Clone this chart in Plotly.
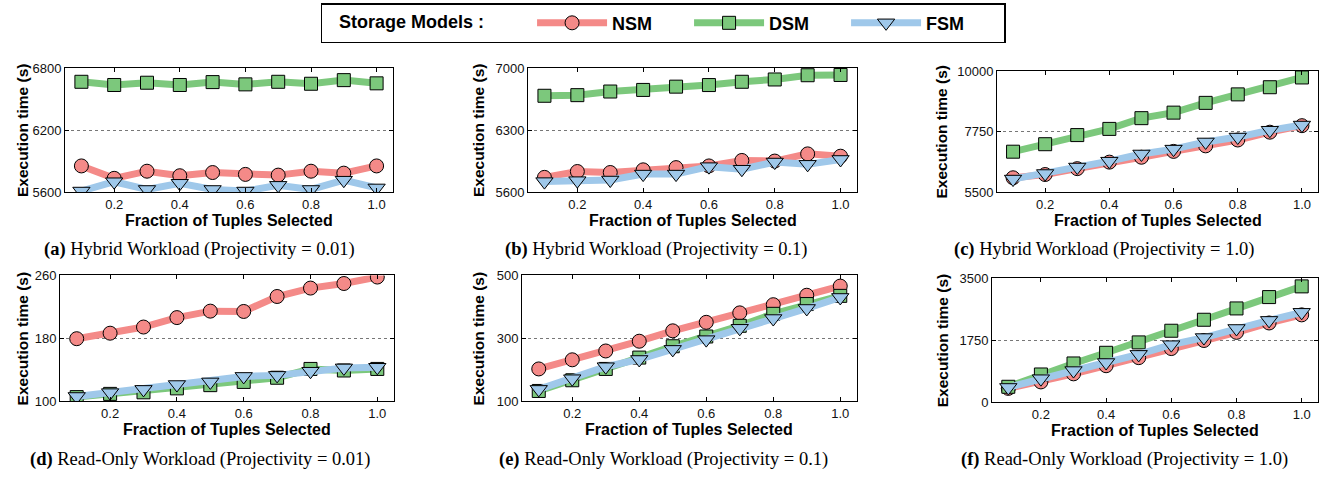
import plotly.graph_objects as go

# ---------------- data ----------------
fraction = [0.1, 0.2, 0.3, 0.4, 0.5, 0.6, 0.7, 0.8, 0.9, 1.0]
x_tickvals = [0.2, 0.4, 0.6, 0.8, 1.0]
x_ticktext = ["0.2", "0.4", "0.6", "0.8", "1.0"]
series_names = ["NSM", "DSM", "FSM"]

# (a) Hybrid, projectivity 0.01
nsm_a = [5853, 5733, 5802, 5758, 5789, 5771, 5764, 5802, 5783, 5853]
dsm_a = [6667, 6636, 6658, 6636, 6664, 6642, 6667, 6648, 6683, 6652]
fsm_a = [5610, 5700, 5625, 5685, 5625, 5610, 5665, 5625, 5715, 5640]
# (b) Hybrid, projectivity 0.1
nsm_b = [5766, 5832, 5821, 5851, 5876, 5895, 5957, 5950, 6031, 6005]
dsm_b = [6687, 6694, 6735, 6753, 6790, 6808, 6845, 6871, 6919, 6922]
fsm_b = [5718, 5729, 5736, 5803, 5803, 5887, 5858, 5939, 5913, 5968]
# (c) Hybrid, projectivity 1.0
nsm_c = [6031, 6152, 6370, 6612, 6794, 7011, 7217, 7435, 7725, 7967]
dsm_c = [7000, 7278, 7617, 7847, 8246, 8451, 8814, 9129, 9395, 9758]
fsm_c = [5983, 6189, 6430, 6648, 6915, 7096, 7362, 7544, 7798, 7990]
# (d) Read-only, projectivity 0.01
nsm_d = [179.6, 186.6, 194.4, 206.4, 214.6, 214.2, 233.2, 243.9, 249.7, 257.9]
dsm_d = [105.4, 109.5, 111.5, 116.5, 120.6, 124.7, 130.0, 141.2, 139.2, 141.2]
fsm_d = [106.2, 111.1, 115.2, 121.4, 124.7, 131.7, 133.0, 138.3, 142.5, 143.3]
# (e) Read-only, projectivity 0.1
nsm_e = [203, 232, 260, 291, 324, 351, 381, 407, 437, 466]
dsm_e = [133, 167, 203, 239, 275, 306, 340, 378, 409, 435]
fsm_e = [138, 172, 210, 233, 265, 296, 332, 363, 395, 430]
# (f) Read-only, projectivity 1.0
nsm_f = [393, 576, 804, 1033, 1261, 1517, 1745, 1974, 2239, 2468]
dsm_f = [439, 786, 1097, 1398, 1691, 2020, 2330, 2650, 2970, 3272]
fsm_f = [420, 667, 896, 1124, 1353, 1627, 1828, 2084, 2312, 2540]

y_ticks_a = [5600, 6200, 6800]
y_ticks_b = [5600, 6300, 7000]
y_ticks_c = [5500, 7750, 10000]
y_ticks_d = [100, 180, 260]
y_ticks_e = [100, 300, 500]
y_ticks_f = [0, 1750, 3500]

captions = [
    ("(a)", "Hybrid Workload (Projectivity = 0.01)"),
    ("(b)", "Hybrid Workload (Projectivity = 0.1)"),
    ("(c)", "Hybrid Workload (Projectivity = 1.0)"),
    ("(d)", "Read-Only Workload (Projectivity = 0.01)"),
    ("(e)", "Read-Only Workload (Projectivity = 0.1)"),
    ("(f)", "Read-Only Workload (Projectivity = 1.0)"),
]

panel_series = [
    (nsm_a, dsm_a, fsm_a, y_ticks_a),
    (nsm_b, dsm_b, fsm_b, y_ticks_b),
    (nsm_c, dsm_c, fsm_c, y_ticks_c),
    (nsm_d, dsm_d, fsm_d, y_ticks_d),
    (nsm_e, dsm_e, fsm_e, y_ticks_e),
    (nsm_f, dsm_f, fsm_f, y_ticks_f),
]

# ---------------- styling / layout ----------------
W, H = 1330, 483
# plot-area boxes in pixels: (left, right, top, bottom)
boxes = [
    (65, 393, 63, 191),
    (528, 857, 63, 191),
    (997, 1318, 66, 191),
    (60, 394, 277, 407),
    (522, 857, 277, 407),
    (992, 1318, 280, 408),
]
ytitle_x = [22, 478, 942, 22, 478, 942]
caption_pos = [(199, 250), (656, 250), (1104, 250), (200, 467), (663, 467), (1124, 467)]

line_colors = ["#F48A88", "#7CC87C", "#9FC8EA"]
marker_colors = ["#F48A88", "#7CC87C", "#9FC8EA"]
symbols = ["circle", "square", "triangle-down"]
marker_sizes = [14, 13, 15]

SANS = "Liberation Sans, Arial, sans-serif"
SERIF = "Liberation Serif, Times New Roman, serif"

fig = go.Figure()
annotations = []
layout = {}

for i, ((nsm, dsm, fsm, yt), (l, r, t, b)) in enumerate(zip(panel_series, boxes)):
    idx = "" if i == 0 else str(i + 1)
    xa, ya = "x" + idx, "y" + idx
    for k, vals in enumerate([nsm, dsm, fsm]):
        fig.add_trace(go.Scatter(
            x=fraction, y=vals, xaxis=xa, yaxis=ya,
            mode="lines+markers", name=series_names[k],
            legendgroup=series_names[k], showlegend=(i == 0),
            line=dict(color=line_colors[k], width=7),
            marker=dict(symbol=symbols[k], size=marker_sizes[k], color=marker_colors[k],
                        line=dict(color="black", width=1)),
            cliponaxis=True,
        ))
    layout["xaxis" + idx] = dict(
        domain=[l / W, r / W], anchor=ya, range=[0.05, 1.05],
        tickvals=x_tickvals, ticktext=x_ticktext,
        showline=True, mirror="ticks", linecolor="black", linewidth=1,
        ticks="inside", ticklen=4, tickcolor="black",
        showgrid=False, zeroline=False,
        tickfont=dict(family=SANS, size=13, color="#111"),
    )
    layout["yaxis" + idx] = dict(
        domain=[1 - b / H, 1 - t / H], anchor=xa, range=[yt[0], yt[-1]],
        tickvals=yt, ticktext=[str(v) for v in yt],
        showline=True, mirror="ticks", linecolor="black", linewidth=1,
        ticks="inside", ticklen=4, tickcolor="black",
        showgrid=True, gridcolor="#777", griddash="dot", gridwidth=1,
        zeroline=False,
        tickfont=dict(family=SANS, size=13, color="#111"),
    )
    # x-axis title
    annotations.append(dict(
        text="<b>Fraction of Tuples Selected</b>", xref="paper", yref="paper",
        x=(l + r) / 2 / W, y=1 - (b + 29) / H, xanchor="center", yanchor="middle",
        showarrow=False, font=dict(family=SANS, size=16, color="black"),
    ))
    # y-axis title
    annotations.append(dict(
        text="<b>Execution time (s)</b>", xref="paper", yref="paper",
        x=ytitle_x[i] / W, y=1 - (t + b) / 2 / H, xanchor="center", yanchor="middle",
        textangle=-90, showarrow=False, font=dict(family=SANS, size=15.5, color="black"),
    ))
    # caption
    cx, cy = caption_pos[i]
    annotations.append(dict(
        text="<b>%s</b> %s" % captions[i], xref="paper", yref="paper",
        x=cx / W, y=1 - cy / H, xanchor="center", yanchor="middle",
        showarrow=False, font=dict(family=SERIF, size=18.5, color="black"),
    ))

fig.update_layout(
    width=W, height=H,
    margin=dict(l=0, r=0, t=0, b=0),
    paper_bgcolor="white", plot_bgcolor="white",
    annotations=annotations,
    legend=dict(
        orientation="h", x=663 / W, xanchor="center", y=1 + 4 / H, yanchor="top",
        bordercolor="black", borderwidth=1.5, bgcolor="white",
        font=dict(family=SANS, size=18, color="black", weight="bold"),
        title=dict(text="&nbsp;&nbsp;&nbsp;<b>Storage Models :</b>&nbsp;&nbsp;&nbsp;&nbsp;&nbsp;&nbsp;&nbsp;&nbsp;",
                   side="left", font=dict(family=SANS, size=18, color="black")),
        itemwidth=70, entrywidth=72, traceorder="normal",
    ),
    **layout,
)

fig.write_html("out.html", config={"displayModeBar": False},
               post_script="document.body.style.margin='0';")
